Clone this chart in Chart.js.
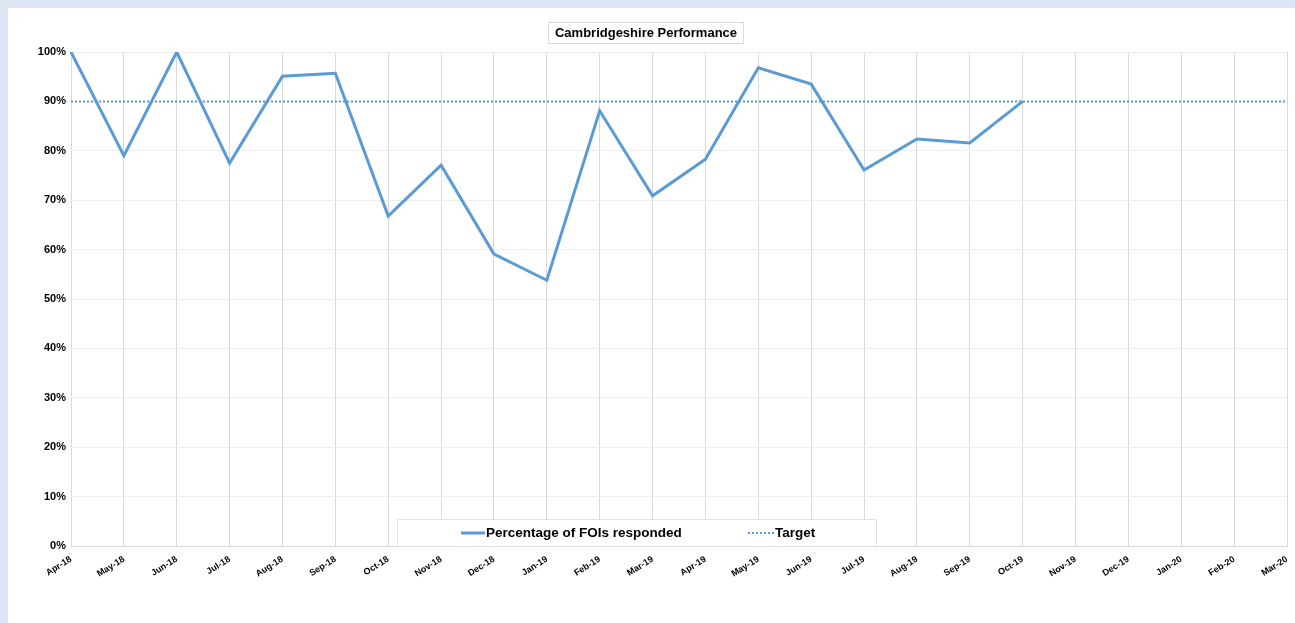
<!DOCTYPE html>
<html>
<head>
<meta charset="utf-8">
<script src="https://cdn.jsdelivr.net/npm/chart.js@4.4.1/dist/chart.umd.min.js"></script>
<style>
  html, body { margin: 0; padding: 0; background: #dde8f4; width: 1295px; height: 623px; overflow: hidden; }
  #panel { position: absolute; left: 8px; top: 8px; width: 1287px; height: 615px; background: #fff; }
  #chart { display: block; }
</style>
</head>
<body>
<div id="panel"><canvas id="chart" width="1287" height="615"></canvas></div>
<script>
// Cambridgeshire FOI performance, Apr-18 .. Mar-20
const months = ['Apr-18', 'May-18', 'Jun-18', 'Jul-18', 'Aug-18', 'Sep-18', 'Oct-18', 'Nov-18', 'Dec-18', 'Jan-19',
    'Feb-19', 'Mar-19', 'Apr-19', 'May-19', 'Jun-19', 'Jul-19', 'Aug-19', 'Sep-19', 'Oct-19', 'Nov-19',
    'Dec-19', 'Jan-20', 'Feb-20', 'Mar-20'];
const responded = [100, 79, 100, 77.5, 95.1, 95.7, 66.8, 77.1, 59.1, 53.8,
    88.1, 70.9, 78.3, 96.8, 93.5, 76.1, 82.4, 81.6, 90, null,
    null, null, null, null];
const target = months.map(() => 90);
const yTicks = [0, 10, 20, 30, 40, 50, 60, 70, 80, 90, 100];

const FONT = "'Liberation Sans', Arial, sans-serif";
const BLUE = '#5b9bd5';

// title with thin box, and legend box inside the plot (Excel style)
const excelBits = {
    id: 'excelBits',
    afterDraw(chart) {
        const ctx = chart.ctx;
        ctx.save();
        // title
        ctx.font = 'bold 13px ' + FONT;
        const title = 'Cambridgeshire Performance';
        const tw = ctx.measureText(title).width;
        const cx = 638, cy = 25;
        ctx.fillStyle = '#fff';
        ctx.fillRect(cx - tw / 2 - 6, cy - 11, tw + 12, 22);
        ctx.strokeStyle = '#d9d9d9';
        ctx.lineWidth = 1;
        ctx.strokeRect(cx - tw / 2 - 6.5, cy - 10.5, tw + 13, 21);
        ctx.fillStyle = '#000';
        ctx.textAlign = 'center';
        ctx.textBaseline = 'middle';
        ctx.fillText(title, cx, cy);

        // legend
        const lx = 389, ly = 511, lw = 479, lh = 27;
        ctx.fillStyle = '#fff';
        ctx.fillRect(lx, ly, lw, lh);
        ctx.strokeStyle = '#e2e2e2';
        ctx.strokeRect(lx + 0.5, ly + 0.5, lw, lh);
        const midY = ly + 14;
        ctx.font = 'bold 13.5px ' + FONT;
        ctx.textAlign = 'left';
        ctx.fillStyle = '#000';
        const ds = chart.data.datasets;
        // series 1
        ctx.strokeStyle = BLUE;
        ctx.lineWidth = 3;
        ctx.setLineDash([]);
        ctx.beginPath(); ctx.moveTo(453, midY); ctx.lineTo(477, midY); ctx.stroke();
        ctx.fillText(ds[0].label, 478, midY);
        // series 2
        ctx.lineWidth = 2;
        ctx.setLineDash([2, 2]);
        ctx.beginPath(); ctx.moveTo(740, midY); ctx.lineTo(766, midY); ctx.stroke();
        ctx.setLineDash([]);
        ctx.fillText(ds[1].label, 767, midY);
        ctx.restore();
    }
};

new Chart(document.getElementById('chart'), {
    type: 'line',
    data: {
        labels: months,
        datasets: [
            { label: 'Percentage of FOIs responded', data: responded, borderColor: BLUE, borderWidth: 3,
              pointRadius: 0, tension: 0, spanGaps: false, fill: false },
            { label: 'Target', data: target, borderColor: BLUE, borderWidth: 2, borderDash: [2, 2],
              pointRadius: 0, tension: 0, fill: false }
        ]
    },
    options: {
        responsive: false,
        animation: false,
        layout: { padding: { top: 44, right: 8, left: 0, bottom: 0 } },
        scales: {
            x: {
                offset: false,
                grid: { color: '#d9d9d9', drawTicks: false },
                border: { color: '#d9d9d9' },
                ticks: { autoSkip: false, minRotation: 32, maxRotation: 32, padding: 8,
                         color: '#000', font: { family: FONT, size: 9, weight: 'bold' } },
                afterFit(s) { s.height = 77; s.paddingLeft = 0; s.paddingRight = 0; }
            },
            y: {
                min: 0, max: 100,
                afterBuildTicks(s) { s.ticks = yTicks.map(v => ({ value: v })); },
                grid: { color: '#eeeeee', drawTicks: false },
                border: { display: false },
                ticks: { color: '#000', padding: 5, font: { family: FONT, size: 11, weight: 'bold' },
                         callback: v => v + '%' },
                afterFit(s) { s.width = 63; }
            }
        },
        plugins: {
            legend: { display: false },
            title: { display: false },
            tooltip: { enabled: false }
        }
    },
    plugins: [excelBits]
});
</script>
</body>
</html>
